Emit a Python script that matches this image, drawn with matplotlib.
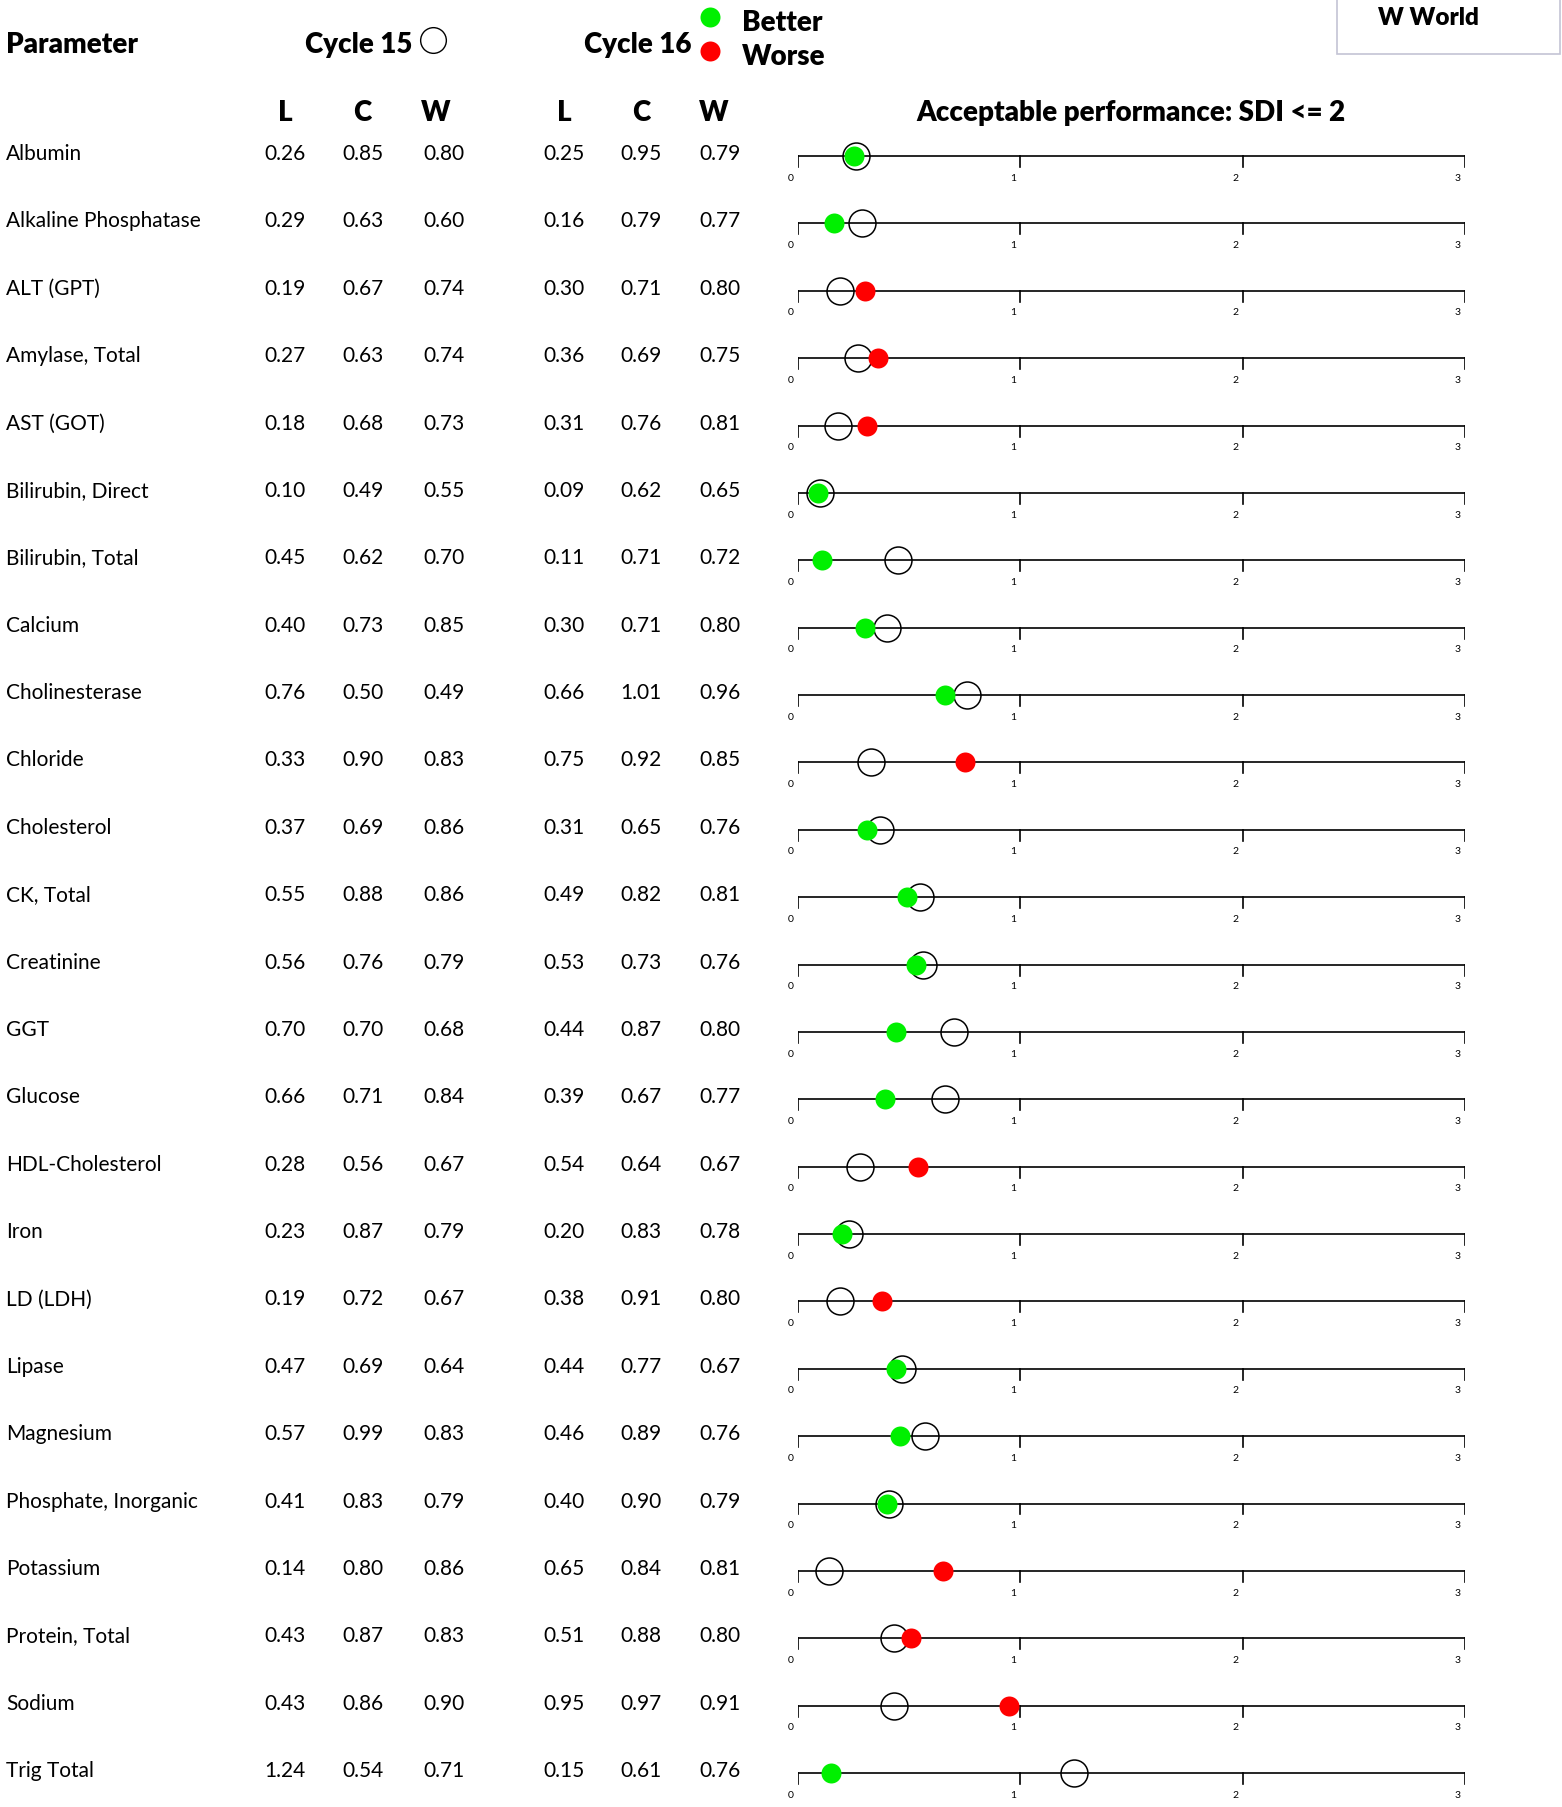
import matplotlib
matplotlib.use("Agg")
import matplotlib.pyplot as plt
from matplotlib.patches import Rectangle

plt.rcParams['font.family'] = ['Lato', 'DejaVu Sans']

parameters = [
    "Albumin", "Alkaline Phosphatase", "ALT (GPT)", "Amylase, Total", "AST (GOT)",
    "Bilirubin, Direct", "Bilirubin, Total", "Calcium", "Cholinesterase", "Chloride",
    "Cholesterol", "CK, Total", "Creatinine", "GGT", "Glucose",
    "HDL-Cholesterol", "Iron", "LD (LDH)", "Lipase", "Magnesium",
    "Phosphate, Inorganic", "Potassium", "Protein, Total", "Sodium", "Trig Total",
]
c15_L = [0.26, 0.29, 0.19, 0.27, 0.18, 0.10, 0.45, 0.40, 0.76, 0.33, 0.37, 0.55, 0.56,
         0.70, 0.66, 0.28, 0.23, 0.19, 0.47, 0.57, 0.41, 0.14, 0.43, 0.43, 1.24]
c15_C = [0.85, 0.63, 0.67, 0.63, 0.68, 0.49, 0.62, 0.73, 0.50, 0.90, 0.69, 0.88, 0.76,
         0.70, 0.71, 0.56, 0.87, 0.72, 0.69, 0.99, 0.83, 0.80, 0.87, 0.86, 0.54]
c15_W = [0.80, 0.60, 0.74, 0.74, 0.73, 0.55, 0.70, 0.85, 0.49, 0.83, 0.86, 0.86, 0.79,
         0.68, 0.84, 0.67, 0.79, 0.67, 0.64, 0.83, 0.79, 0.86, 0.83, 0.90, 0.71]
c16_L = [0.25, 0.16, 0.30, 0.36, 0.31, 0.09, 0.11, 0.30, 0.66, 0.75, 0.31, 0.49, 0.53,
         0.44, 0.39, 0.54, 0.20, 0.38, 0.44, 0.46, 0.40, 0.65, 0.51, 0.95, 0.15]
c16_C = [0.95, 0.79, 0.71, 0.69, 0.76, 0.62, 0.71, 0.71, 1.01, 0.92, 0.65, 0.82, 0.73,
         0.87, 0.67, 0.64, 0.83, 0.91, 0.77, 0.89, 0.90, 0.84, 0.88, 0.97, 0.61]
c16_W = [0.79, 0.77, 0.80, 0.75, 0.81, 0.65, 0.72, 0.80, 0.96, 0.85, 0.76, 0.81, 0.76,
         0.80, 0.77, 0.67, 0.78, 0.80, 0.67, 0.76, 0.79, 0.81, 0.80, 0.91, 0.76]
sdi_ticks = [0, 1, 2, 3]

GREEN = '#00f000'
RED = '#ff0000'

W, H = 1562, 1807
fig = plt.figure(figsize=(W / 100, H / 100), dpi=100)

# background axes in pixel units for the table text
bg = fig.add_axes([0, 0, 1, 1])
bg.set_xlim(0, W)
bg.set_ylim(H, 0)
bg.axis('off')

row0, step = 156, 67.375
n = len(parameters)

# header
hdr = dict(fontsize=20, fontweight='heavy', va='center')
bg.text(6, 45, "Parameter", ha='left', **hdr)
bg.text(305, 45, "Cycle 15", ha='left', **hdr)
bg.text(584, 45, "Cycle 16", ha='left', **hdr)
bg.text(742, 23, "Better", ha='left', **hdr)
bg.text(742, 57, "Worse", ha='left', **hdr)
bg.plot([433], [40], 'o', ms=18.5, mfc='none', mec='black', mew=1.0)
bg.plot([710], [17], 'o', ms=14.4, mfc=GREEN, mec='none')
bg.plot([710], [51], 'o', ms=14.4, mfc=RED, mec='none')

bg.add_patch(Rectangle((1337, -5), 223, 59, fill=False, ec='#c4c4d4', lw=1.2))
bg.text(1378, 18, "W World", ha='left', va='center', fontsize=17.5, fontweight='heavy')

cols = [285, 363, 444, 564, 641, 720]
head_x = [285, 362, 436, 564, 641, 714]
for x, lab in zip(head_x, ["L", "C", "W", "L", "C", "W"]):
    bg.text(x, 113, lab, ha='center', **hdr)
bg.text(1131, 113, "Acceptable performance: SDI <= 2", ha='center', **hdr)

# table rows
for i, name in enumerate(parameters):
    y = row0 - 2 + i * step
    bg.text(6, y, name, ha='left', va='center', fontsize=15)
    vals = [c15_L[i], c15_C[i], c15_W[i], c16_L[i], c16_C[i], c16_W[i]]
    for x, v in zip(cols, vals):
        bg.text(x, y, f"{v:.2f}", ha='center', va='center', fontsize=15)

# SDI dot axes: x=0 at 798 px, x=3 at 1465 px
x0, x1 = 798, 1465
top = row0 - step / 2
ax = fig.add_axes([x0 / W, 1 - (top + n * step) / H, (x1 - x0) / W, n * step / H])
ax.set_xlim(0, 3)
ax.set_ylim(n - 0.5, -0.5)
ax.axis('off')

tick_len = 11 / step
for i in range(n):
    ax.plot([0, 3], [i, i], color='black', lw=1.2, solid_capstyle='butt')
    for t in sdi_ticks:
        ax.plot([t, t], [i, i + tick_len], color='black', lw=1.2)
        ax.text(t - 0.033, i + 0.33, str(t), ha='center', va='center', fontsize=7.5)
    better = c16_L[i] <= c15_L[i]
    ax.plot([c15_L[i]], [i], 'o', ms=19.4, mfc='none', mec='black', mew=1.1, zorder=3)
    ax.plot([c16_L[i]], [i], 'o', ms=14.4, mfc=GREEN if better else RED, mec='none', zorder=4)

fig.savefig('out.png', dpi=100)
